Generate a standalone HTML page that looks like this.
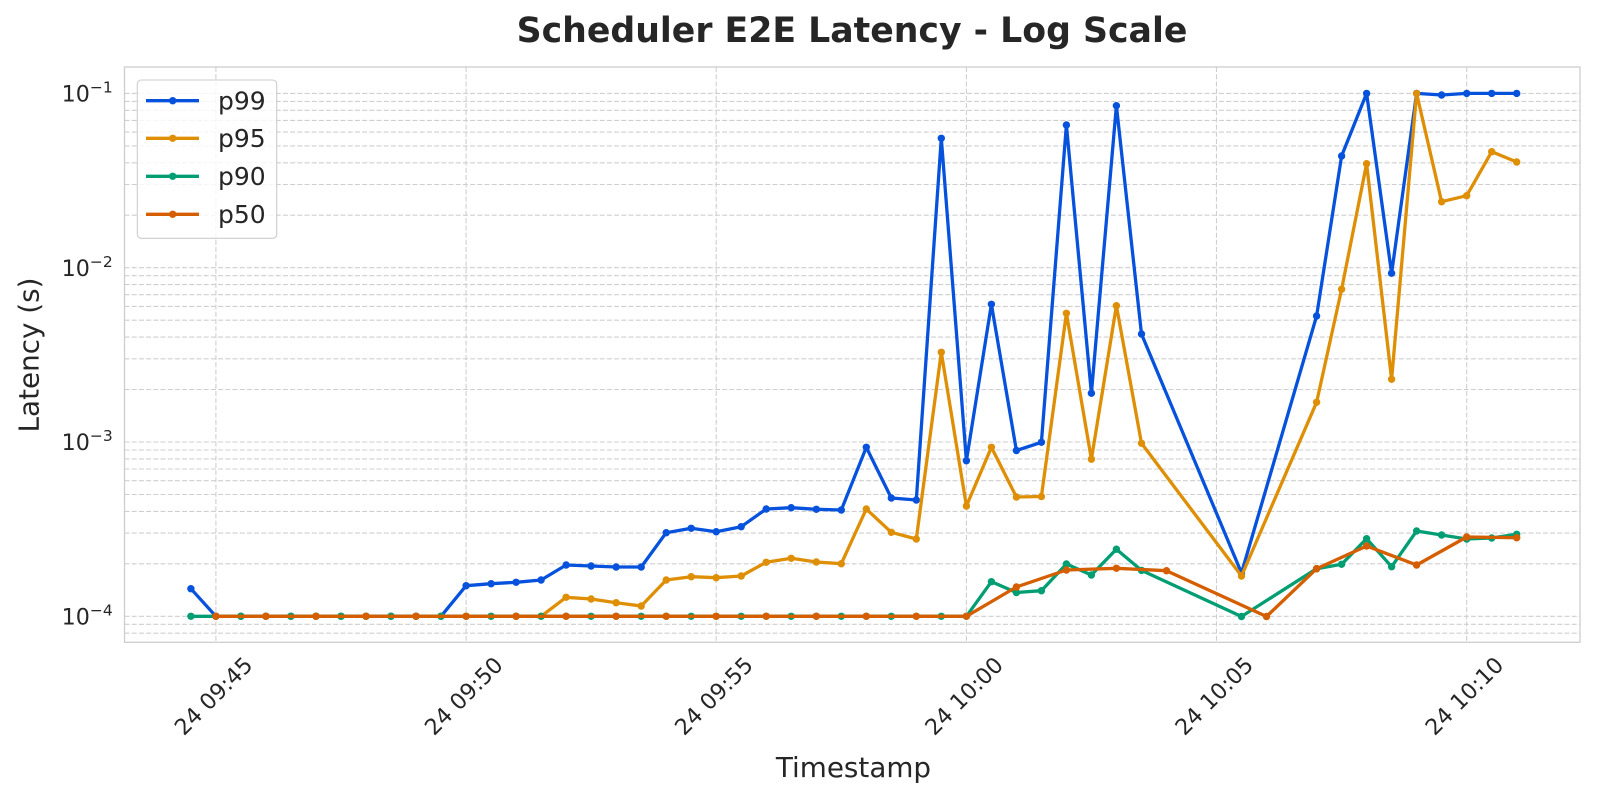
<!DOCTYPE html>
<html>
<head>
<meta charset="utf-8">
<style>
  html, body { margin: 0; padding: 0; background: #ffffff; }
  svg { display: block; }
  text { font-family: "DejaVu Sans", "Liberation Sans", sans-serif; fill: #262626; }
</style>
</head>
<body>
<svg width="1600" height="800" viewBox="0 0 1600 800" xmlns="http://www.w3.org/2000/svg">
  <defs>
    <marker id="mb" markerUnits="userSpaceOnUse" markerWidth="10" markerHeight="10" refX="5" refY="5" viewBox="0 0 10 10"><circle cx="5" cy="5" r="3.7" fill="#0652DD"/></marker>
    <marker id="mo" markerUnits="userSpaceOnUse" markerWidth="10" markerHeight="10" refX="5" refY="5" viewBox="0 0 10 10"><circle cx="5" cy="5" r="3.7" fill="#DE8F05"/></marker>
    <marker id="mg" markerUnits="userSpaceOnUse" markerWidth="10" markerHeight="10" refX="5" refY="5" viewBox="0 0 10 10"><circle cx="5" cy="5" r="3.7" fill="#029E73"/></marker>
    <marker id="mr" markerUnits="userSpaceOnUse" markerWidth="10" markerHeight="10" refX="5" refY="5" viewBox="0 0 10 10"><circle cx="5" cy="5" r="3.7" fill="#D55E00"/></marker>
    <clipPath id="clip"><rect x="124.5" y="67" width="1455.5" height="575.3"/></clipPath>
  </defs>

  <rect x="0" y="0" width="1600" height="800" fill="#ffffff"/>

  <!-- Title -->
  <text x="852" y="42" font-size="34.7" font-weight="bold" text-anchor="middle">Scheduler E2E Latency - Log Scale</text>

  <!-- Grid -->
  <g stroke="#cfcfcf" stroke-width="1.1" stroke-dasharray="5,2.2" fill="none">
    <line x1="215.9" y1="67" x2="215.9" y2="642.3"/>
    <line x1="466.1" y1="67" x2="466.1" y2="642.3"/>
    <line x1="716.2" y1="67" x2="716.2" y2="642.3"/>
    <line x1="966.4" y1="67" x2="966.4" y2="642.3"/>
    <line x1="1216.5" y1="67" x2="1216.5" y2="642.3"/>
    <line x1="1466.7" y1="67" x2="1466.7" y2="642.3"/>
    <line x1="124.5" y1="633.2" x2="1580" y2="633.2"/>
    <line x1="124.5" y1="624.3" x2="1580" y2="624.3"/>
    <line x1="124.5" y1="616.3" x2="1580" y2="616.3"/>
    <line x1="124.5" y1="563.8" x2="1580" y2="563.8"/>
    <line x1="124.5" y1="533.1" x2="1580" y2="533.1"/>
    <line x1="124.5" y1="511.4" x2="1580" y2="511.4"/>
    <line x1="124.5" y1="494.5" x2="1580" y2="494.5"/>
    <line x1="124.5" y1="480.7" x2="1580" y2="480.7"/>
    <line x1="124.5" y1="469.0" x2="1580" y2="469.0"/>
    <line x1="124.5" y1="458.9" x2="1580" y2="458.9"/>
    <line x1="124.5" y1="450.0" x2="1580" y2="450.0"/>
    <line x1="124.5" y1="442.0" x2="1580" y2="442.0"/>
    <line x1="124.5" y1="389.5" x2="1580" y2="389.5"/>
    <line x1="124.5" y1="358.8" x2="1580" y2="358.8"/>
    <line x1="124.5" y1="337.1" x2="1580" y2="337.1"/>
    <line x1="124.5" y1="320.2" x2="1580" y2="320.2"/>
    <line x1="124.5" y1="306.4" x2="1580" y2="306.4"/>
    <line x1="124.5" y1="294.7" x2="1580" y2="294.7"/>
    <line x1="124.5" y1="284.6" x2="1580" y2="284.6"/>
    <line x1="124.5" y1="275.7" x2="1580" y2="275.7"/>
    <line x1="124.5" y1="267.7" x2="1580" y2="267.7"/>
    <line x1="124.5" y1="215.2" x2="1580" y2="215.2"/>
    <line x1="124.5" y1="184.5" x2="1580" y2="184.5"/>
    <line x1="124.5" y1="162.8" x2="1580" y2="162.8"/>
    <line x1="124.5" y1="145.9" x2="1580" y2="145.9"/>
    <line x1="124.5" y1="132.1" x2="1580" y2="132.1"/>
    <line x1="124.5" y1="120.4" x2="1580" y2="120.4"/>
    <line x1="124.5" y1="110.3" x2="1580" y2="110.3"/>
    <line x1="124.5" y1="101.4" x2="1580" y2="101.4"/>
    <line x1="124.5" y1="93.4" x2="1580" y2="93.4"/>
  </g>

  <!-- Series -->
  <g clip-path="url(#clip)" fill="none" stroke-width="3.3" stroke-linejoin="round">
    <polyline stroke="#0652DD" marker-start="url(#mb)" marker-mid="url(#mb)" marker-end="url(#mb)" points="190.9,588.7 215.9,616.3 240.9,616.3 265.9,616.3 290.9,616.3 316.0,616.3 341.0,616.3 366.0,616.3 391.0,616.3 416.0,616.3 441.0,616.3 466.1,585.7 491.1,583.7 516.1,582.3 541.1,580 566.1,565 591.1,566 616.1,567 641.2,567 666.2,532.7 691.2,528.3 716.2,531.7 741.2,526.7 766.2,509 791.2,507.7 816.3,509.3 841.3,510 866.3,447.3 891.3,498 916.3,500 941.3,138.3 966.4,460.7 991.4,304.3 1016.4,450.5 1041.4,442.3 1066.4,125 1091.4,393.3 1116.4,105.7 1141.5,334 1241.5,573 1316.6,316 1341.6,156 1366.6,93.4 1391.6,273.3 1416.6,93.4 1441.6,95 1466.7,93.4 1491.7,93.4 1516.7,93.4"/>
    <polyline stroke="#DE8F05" marker-start="url(#mo)" marker-mid="url(#mo)" marker-end="url(#mo)" points="215.9,616.3 240.9,616.3 265.9,616.3 290.9,616.3 316.0,616.3 341.0,616.3 366.0,616.3 391.0,616.3 416.0,616.3 441.0,616.3 466.1,616.3 491.1,616.3 516.1,616.3 541.1,616.3 566.1,597.3 591.1,599 616.1,602.7 641.2,606 666.2,580 691.2,576.7 716.2,577.7 741.2,576 766.2,562.3 791.2,558.3 816.3,562 841.3,563.7 866.3,509 891.3,532.3 916.3,539 941.3,352.3 966.4,506 991.4,447.3 1016.4,497 1041.4,496.5 1066.4,313.3 1091.4,459.3 1116.4,305.7 1141.5,443.3 1241.5,576 1316.6,402.3 1341.6,289.3 1366.6,163.7 1391.6,379.3 1416.6,93.4 1441.6,201.7 1466.7,195.7 1491.7,151.7 1516.7,162"/>
    <polyline stroke="#029E73" marker-start="url(#mg)" marker-mid="url(#mg)" marker-end="url(#mg)" points="190.9,616.3 215.9,616.3 240.9,616.3 265.9,616.3 290.9,616.3 316.0,616.3 341.0,616.3 366.0,616.3 391.0,616.3 416.0,616.3 441.0,616.3 466.1,616.3 491.1,616.3 516.1,616.3 541.1,616.3 566.1,616.3 591.1,616.3 616.1,616.3 641.2,616.3 666.2,616.3 691.2,616.3 716.2,616.3 741.2,616.3 766.2,616.3 791.2,616.3 816.3,616.3 841.3,616.3 866.3,616.3 891.3,616.3 916.3,616.3 941.3,616.3 966.4,616.3 991.4,581.7 1016.4,592.5 1041.4,590.7 1066.4,564 1091.4,575 1116.4,549.2 1141.5,570.4 1241.5,616.5 1316.6,568.7 1341.6,564.3 1366.6,538.7 1391.6,566.7 1416.6,531 1441.6,535 1466.7,539 1491.7,538 1516.7,534.3"/>
    <polyline stroke="#D55E00" marker-start="url(#mr)" marker-mid="url(#mr)" marker-end="url(#mr)" points="215.9,616.3 265.9,616.3 316.0,616.3 366.0,616.3 416.0,616.3 466.1,616.3 516.1,616.3 566.1,616.3 616.1,616.3 666.2,616.3 716.2,616.3 766.2,616.3 816.3,616.3 866.3,616.3 916.3,616.3 966.4,616.3 1016.4,587 1066.4,570 1116.4,568.3 1166.5,570.7 1266.5,616.5 1316.6,568.7 1366.6,546 1416.6,565 1466.7,537 1516.7,537.7"/>
  </g>

  <!-- Spines -->
  <rect x="124.5" y="67" width="1455.5" height="575.3" fill="none" stroke="#cccccc" stroke-width="1.25"/>

  <!-- Y tick labels -->
  <g font-size="22.2" text-anchor="end">
    <text x="112.7" y="101.5">10<tspan font-size="15.5" dy="-9">−1</tspan></text>
    <text x="112.7" y="275.8">10<tspan font-size="15.5" dy="-9">−2</tspan></text>
    <text x="112.7" y="450.1">10<tspan font-size="15.5" dy="-9">−3</tspan></text>
    <text x="112.7" y="624.4">10<tspan font-size="15.5" dy="-9">−4</tspan></text>
  </g>

  <!-- X tick labels -->
  <g font-size="22.2" text-anchor="middle" dominant-baseline="central">
    <text x="214" y="696.5" transform="rotate(-45 214 696.5)">24 09:45</text>
    <text x="464.2" y="696.5" transform="rotate(-45 464.2 696.5)">24 09:50</text>
    <text x="714.3" y="696.5" transform="rotate(-45 714.3 696.5)">24 09:55</text>
    <text x="964.5" y="696.5" transform="rotate(-45 964.5 696.5)">24 10:00</text>
    <text x="1214.6" y="696.5" transform="rotate(-45 1214.6 696.5)">24 10:05</text>
    <text x="1464.8" y="696.5" transform="rotate(-45 1464.8 696.5)">24 10:10</text>
  </g>

  <!-- Axis labels -->
  <text x="853.5" y="777" font-size="27.8" text-anchor="middle">Timestamp</text>
  <text transform="translate(38.5 355) rotate(-90)" x="0" y="0" font-size="27.8" text-anchor="middle">Latency (s)</text>

  <!-- Legend -->
  <rect x="137.3" y="80" width="139.4" height="158.3" rx="4" ry="4" fill="#ffffff" fill-opacity="0.8" stroke="#cccccc" stroke-width="1.1"/>
  <g stroke-width="3.3" fill="none">
    <line x1="146" y1="100.7" x2="199" y2="100.7" stroke="#0652DD"/>
    <line x1="146" y1="138.3" x2="199" y2="138.3" stroke="#DE8F05"/>
    <line x1="146" y1="176.3" x2="199" y2="176.3" stroke="#029E73"/>
    <line x1="146" y1="214.3" x2="199" y2="214.3" stroke="#D55E00"/>
  </g>
  <circle cx="172.7" cy="100.7" r="3.7" fill="#0652DD"/>
  <circle cx="172.7" cy="138.3" r="3.7" fill="#DE8F05"/>
  <circle cx="172.7" cy="176.3" r="3.7" fill="#029E73"/>
  <circle cx="172.7" cy="214.3" r="3.7" fill="#D55E00"/>
  <g font-size="25">
    <text x="218" y="109.5">p99</text>
    <text x="218" y="147.1">p95</text>
    <text x="218" y="185.1">p90</text>
    <text x="218" y="223.1">p50</text>
  </g>
</svg>
</body>
</html>
